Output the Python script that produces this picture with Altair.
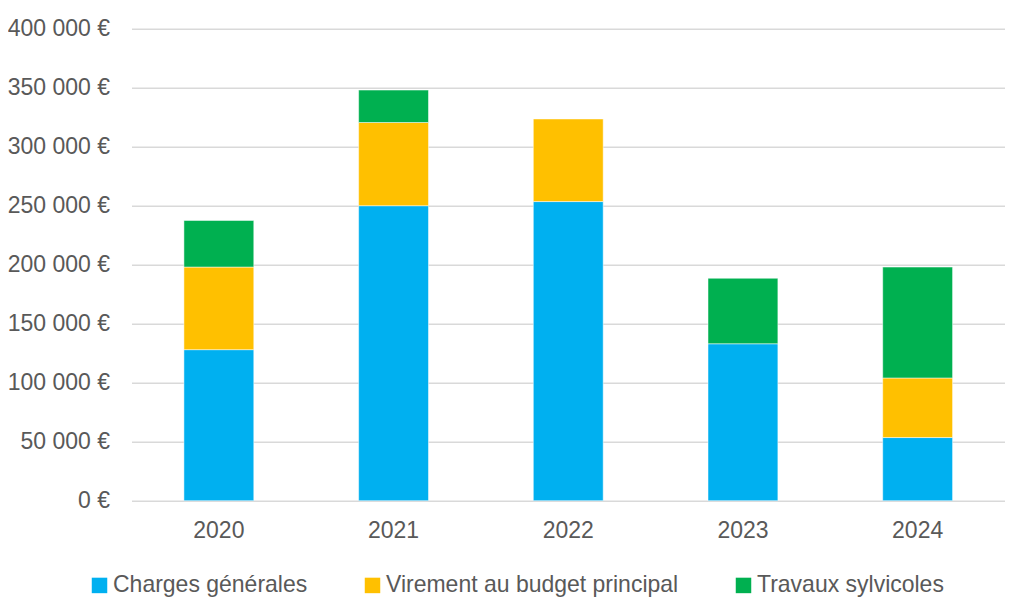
import altair as alt
import pandas as pd

years = ["2020", "2021", "2022", "2023", "2024"]
series = ["Charges générales", "Virement au budget principal", "Travaux sylvicoles"]
charges = [128000, 250000, 253500, 133000, 53500]
virement = [70000, 70500, 70000, 0, 50500]
travaux = [39500, 27500, 0, 55500, 94000]
colors = ["#00B0F0", "#FFC000", "#00B050"]
y_ticks = [0, 50000, 100000, 150000, 200000, 250000, 300000, 350000, 400000]

rows = []
for i, (s, vals) in enumerate(zip(series, [charges, virement, travaux])):
    for y, v in zip(years, vals):
        if v > 0:
            rows.append({"year": y, "serie": s, "value": v, "idx": i})
df = pd.DataFrame(rows)

FONT = "Liberation Sans"
TXT = "#595959"

chart = alt.Chart(df).mark_bar(stroke="white", strokeWidth=0.5).encode(
    x=alt.X("year:N", sort=years, title=None,
            scale=alt.Scale(paddingInner=0.6, paddingOuter=0.3),
            axis=alt.Axis(labelAngle=0, domain=False, ticks=False, tickSize=0,
                          labelPadding=19, labelFont=FONT, labelFontSize=23,
                          labelColor=TXT, grid=False)),
    y=alt.Y("value:Q", stack="zero", title=None,
            scale=alt.Scale(domain=[0, 400000], nice=False),
            axis=alt.Axis(values=y_ticks, domain=False, ticks=False, tickSize=0,
                          labelPadding=22, labelFont=FONT, labelFontSize=23,
                          labelColor=TXT, gridColor="#d9d9d9", gridWidth=1.5,
                          labelExpr="replace(format(datum.value, ',.0f'), /,/g, ' ') + ' €'")),
    color=alt.Color("serie:N", scale=alt.Scale(domain=series, range=colors),
                    legend=alt.Legend(title=None, orient="none", direction="horizontal",
                                      legendX=-43.5, legendY=545, symbolType="square",
                                      symbolSize=240, symbolStrokeWidth=0, labelOffset=2,
                                      columnPadding=53, padding=0, labelLimit=0,
                                      labelFont=FONT, labelFontSize=23, labelColor=TXT)),
    order=alt.Order("idx:Q", sort="ascending"),
).properties(
    width=873.5, height=472,
    background="white",
    autosize=alt.AutoSizeParams(type="none"),
    padding={"left": 123.5, "top": 20.7, "right": 0, "bottom": 97},
).configure_view(stroke=None, strokeWidth=0)

chart.save("out.html", embed_options={"renderer": "svg", "actions": False})
